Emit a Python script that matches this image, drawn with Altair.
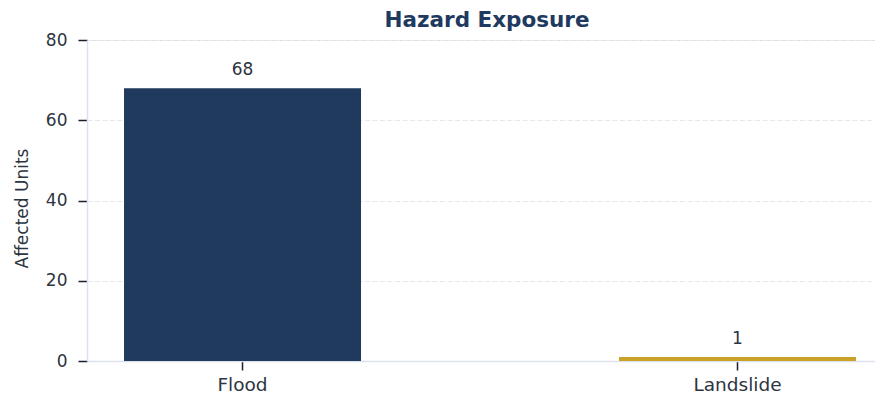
import altair as alt
import pandas as pd

categories = ["Flood", "Landslide"]
values = [68, 1]
colors = ["#1f3a5c", "#c9a227"]

df = pd.DataFrame({"hazard": categories, "units": values, "color": colors})

FONT = "DejaVu Sans"
TEXT = "#2d3440"

x = alt.X(
    "hazard:N",
    sort=categories,
    title=None,
    scale=alt.Scale(paddingInner=0.5212, paddingOuter=0.05657, align=0.661),
    axis=alt.Axis(
        labelAngle=0, labelFontSize=18.5, labelColor=TEXT, labelFont=FONT,
        tickSize=9, tickWidth=1.5, tickColor="#1a1f2e", labelPadding=5,
        domainColor="#dde1ee", domainWidth=1.5, grid=False,
    ),
)
y = alt.Y(
    "units:Q",
    title="Affected Units",
    scale=alt.Scale(domain=[0, 80]),
    axis=alt.Axis(
        values=[0, 20, 40, 60, 80], labelFontSize=17, labelColor=TEXT, labelFont=FONT,
        titleFontSize=17, titleColor=TEXT, titleFont=FONT, titleFontWeight="normal",
        titlePadding=14, titleY=168, tickSize=9, tickWidth=1.5, tickColor="#1a1f2e",
        labelPadding=11, domainColor="#dde1ee", domainWidth=1.5,
        grid=True, gridColor="#e8e8ec", gridDash=[5, 2.5], gridWidth=1,
    ),
)

bars = alt.Chart(df).mark_bar().encode(
    x=x, y=y, color=alt.Color("color:N", scale=None)
)
labels = alt.Chart(df).mark_text(
    baseline="alphabetic", dy=-13, fontSize=17, font=FONT, color=TEXT
).encode(x=alt.X("hazard:N", sort=categories), y="units:Q", text="units:Q")

chart = (
    alt.layer(bars, labels)
    .properties(
        width=788,
        height=321,
        title=alt.TitleParams(
            "Hazard Exposure", fontSize=21.5, font=FONT, fontWeight="bold",
            color="#1f3a5f", offset=0, dx=6,
        ),
        autosize=alt.AutoSizeParams(type="none"),
        padding={"left": 79, "top": 32, "right": 0, "bottom": 40},
    )
    .configure_view(stroke=None)
    .configure(background="white")
)

chart.save("out.html", embed_options={"renderer": "svg", "actions": False})
